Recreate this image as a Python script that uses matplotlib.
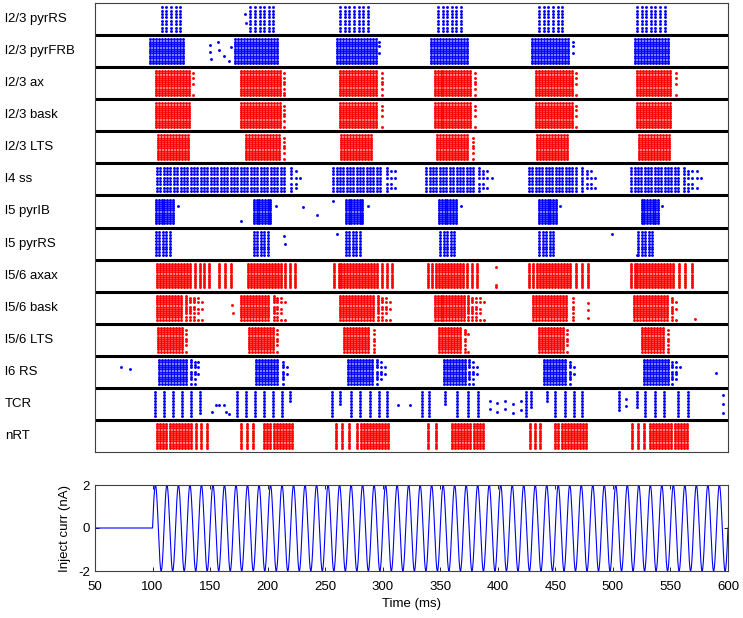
import numpy as np
import matplotlib
matplotlib.use("Agg")
from matplotlib import pyplot as plt

plt.rcParams['font.family'] = ['Liberation Sans', 'DejaVu Sans']
plt.rcParams['axes.unicode_minus'] = False

# populations, top to bottom
pop_names = ["l2/3 pyrRS", "l2/3 pyrFRB", "l2/3 ax", "l2/3 bask", "l2/3 LTS",
             "l4 ss", "l5 pyrIB", "l5 pyrRS", "l5/6 axax", "l5/6 bask",
             "l5/6 LTS", "l6 RS", "TCR", "nRT"]
pop_colors = ["b", "b", "r", "r", "r", "b", "b", "b", "r", "r", "r", "b", "b", "r"]
n_cells = [8, 11, 12, 12, 12, 8, 12, 9, 12, 12, 12, 11, 9, 12]

# burst segments per population: (start ms, end ms, spike interval ms, ragged tail ms)
segments = [
    [(108, 126, 4.0, 4), (185, 206, 4.0, 4), (263, 288, 4.0, 4), (348, 371, 4.0, 4), (436, 458, 4.0, 4), (521, 547, 4.0, 4)],
    [(98, 129, 2.6, 3), (172, 209, 2.6, 3), (260, 294, 2.6, 4), (342, 374, 2.6, 3), (430, 462, 2.6, 4), (519, 550, 2.6, 3)],
    [(103, 132, 2.6, 4), (177, 211, 2.6, 6), (263, 296, 2.6, 5), (345, 377, 2.6, 5), (433, 465, 2.6, 4), (521, 552, 2.6, 4)],
    [(103, 133, 2.6, 3), (177, 211, 2.6, 5), (263, 296, 2.6, 4), (345, 377, 2.6, 4), (433, 465, 2.6, 4), (521, 550, 2.6, 2)],
    [(105, 133, 2.6, 2), (181, 211, 2.6, 5), (264, 292, 2.6, 3), (347, 375, 2.6, 5), (434, 461, 2.6, 2), (523, 551, 2.6, 2)],
    [(104, 217, 2.9, 12), (257, 300, 2.9, 14), (338, 380, 2.9, 16), (427, 470, 2.9, 18), (516, 558, 2.9, 20)],
    [(103, 119, 2.4, 3), (188, 204, 2.4, 3), (268, 284, 2.4, 3), (349, 365, 2.4, 3), (436, 451, 2.4, 3), (525, 540, 2.4, 3)],
    [(103, 116, 3.0, 3), (188, 201, 3.0, 3), (268, 280, 3.0, 3), (350, 362, 3.0, 3), (436, 449, 3.0, 3), (522, 536, 3.0, 3)],
    [(104, 134, 2.6, 2), (137, 149, 4.0, 0), (158, 168, 5.0, 0), (183, 212, 2.6, 2), (215, 228, 4.5, 0),
     (258, 262, 4.0, 0), (264, 296, 2.6, 3), (299, 308, 4.5, 0), (339, 343, 4.0, 0), (346, 370, 2.6, 3),
     (373, 383, 4.5, 0), (427, 431, 4.0, 0), (434, 465, 2.6, 3), (468, 478, 5.0, 0), (516, 519, 3.0, 0),
     (521, 553, 2.6, 3), (557, 569, 6.0, 0)],
    [(104, 126, 2.6, 20), (177, 202, 2.6, 14), (263, 293, 2.6, 16), (345, 371, 2.6, 18), (431, 462, 2.6, 6), (518, 548, 2.6, 8)],
    [(105, 126, 2.6, 5), (184, 205, 2.6, 5), (266, 289, 2.6, 6), (349, 368, 2.6, 7), (436, 457, 2.6, 5), (525, 545, 2.6, 6)],
    [(106, 130, 2.6, 13), (190, 210, 2.6, 8), (270, 292, 2.6, 11), (353, 372, 2.6, 12), (440, 460, 2.6, 8), (527, 548, 2.6, 10)],
    [],
    [(104, 134, 2.7, 0), (138, 147, 4.5, 0), (177, 187, 5.0, 0), (197, 222, 2.7, 3), (259, 273, 6.0, 0),
     (278, 305, 2.7, 3), (339, 347, 7.0, 0), (360, 388, 2.7, 0), (428, 438, 4.5, 0), (450, 478, 2.7, 3),
     (517, 528, 5.0, 0), (532, 566, 2.7, 3)],
]

# TCR fires in synchronous volleys: (time ms, fraction of cells from top that fire)
tcr_volleys = [(102.5, 1.0), (110.3, 1.0), (117.7, 1.0), (125.5, 1.0), (133.3, 1.0), (140.8, 0.9),
               (173.4, 1.0), (181.6, 1.0), (189.4, 1.0), (196.5, 1.0), (204.6, 1.0), (212.4, 1.0), (219.5, 0.5),
               (255.7, 1.0), (262.8, 0.6), (272.7, 1.0), (280.5, 1.0), (288.7, 1.0), (296.8, 1.0), (303.9, 1.0),
               (333.7, 1.0), (340.1, 1.0), (354.3, 0.6), (364.9, 1.0), (373.8, 1.0), (382.6, 1.0),
               (424.5, 1.0), (428.8, 0.7), (442.9, 0.5), (450.0, 1.0), (458.2, 1.0), (466.0, 1.0), (473.0, 1.0),
               (505.0, 0.8), (521.0, 0.7), (528.0, 1.0), (536.9, 1.0), (544.0, 1.0), (556.4, 1.0), (565.2, 1.0)]

# isolated spikes: (population index, time ms, height within row 0..1)
stray_spikes = [
    (1, 150, 0.75), (1, 150, 0.45), (1, 151, 0.2), (1, 157, 0.85), (1, 158, 0.55), (1, 162, 0.3),
    (1, 166, 0.1), (1, 168, 0.65), (0, 180, 0.7), (0, 181, 0.35),
    (6, 177, 0.14), (6, 231, 0.67), (6, 243, 0.37), (6, 257, 0.89),
    (7, 214, 0.78), (7, 215, 0.47), (7, 260, 0.89), (7, 499, 0.89), (7, 521, 0.05),
    (8, 398, 0.85), (8, 398, 0.15), (8, 398, 0.05),
    (9, 169, 0.6), (9, 170, 0.3), (9, 478, 0.7), (9, 478, 0.4), (9, 478, 0.1), (9, 571, 0.05),
    (11, 73, 0.67), (11, 80, 0.6), (11, 590, 0.45),
    (12, 152, 0.2), (12, 155, 0.45), (12, 158, 0.45), (12, 162, 0.45), (12, 164, 0.2), (12, 166, 0.1),
    (12, 313.5, 0.45), (12, 324.1, 0.45), (12, 393, 0.6), (12, 393, 0.3), (12, 399, 0.55), (12, 399, 0.2),
    (12, 406, 0.6), (12, 406, 0.3), (12, 413, 0.5), (12, 413, 0.15), (12, 420, 0.6), (12, 420, 0.25),
    (12, 511, 0.7), (12, 511, 0.4), (12, 596, 0.85), (12, 596, 0.5), (12, 596, 0.15),
]

# how far along the ragged tail each cell keeps firing
row_lag = [0.3, 0.8, 0.5, 1.0, 0.2, 0.65, 0.9, 0.4, 0.75, 0.1, 0.55, 0.95, 0.35, 0.7]

stim_onset = 100.0   # ms
stim_freq = 100.0    # Hz
stim_amp = 2.0       # nA

fig = plt.figure(figsize=(7.43, 6.18), dpi=100)
ax = fig.add_axes([95 / 743, 1 - 452 / 618, 633 / 743, 449 / 618])
n_pop = len(pop_names)


def row_y(i, n, r):
    base = n_pop - 1 - i
    return base + 0.87 - 0.74 * r / max(n - 1, 1)


for i, name in enumerate(pop_names):
    n = n_cells[i]
    ts, ys = [], []
    for (t0, t1, dt, tail) in segments[i]:
        for r in range(n):
            core = np.arange(t0, t1 + 1e-6, dt)
            ts.extend(core)
            ys.extend([row_y(i, n, r)] * len(core))
            if tail > 0:
                extra = np.arange(t1 + dt * 1.2, t1 + tail * row_lag[r % len(row_lag)] + 1e-6, dt * 1.3)
                ts.extend(extra)
                ys.extend([row_y(i, n, r)] * len(extra))
    if name == "TCR":
        for (t, frac) in tcr_volleys:
            for r in range(int(round(n * frac))):
                ts.append(t)
                ys.append(row_y(i, n, r))
    for (p, t, h) in stray_spikes:
        if p == i:
            ts.append(t)
            ys.append(n_pop - 1 - i + 0.1 + 0.8 * h)
    ax.plot(ts, ys, 'o', ms=2.1, mew=0, color=pop_colors[i], linestyle='none')
    ax.text(-0.142, n_pop - 0.5 - i, name, transform=ax.get_yaxis_transform(),
            ha='left', va='center', fontsize=9.5)

for k in range(1, n_pop):
    ax.axhline(k, color='k', lw=2.2)
ax.set_xlim(50, 600)
ax.set_ylim(0, n_pop)
ax.set_xticks([])
ax.set_yticks([])
for s in ax.spines.values():
    s.set_color('#404040')
    s.set_linewidth(0.8)

# injected current
ax2 = fig.add_axes([95 / 743, 1 - 571 / 618, 633 / 743, 86 / 618])
t = np.linspace(50, 600, 11001)
curr = np.where(t >= stim_onset, stim_amp * np.sin(2 * np.pi * stim_freq * (t - stim_onset) / 1000.0), 0.0)
ax2.plot(t, curr, color='#0000ff', lw=0.8)
ax2.set_xlim(50, 600)
ax2.set_ylim(-2, 2)
ax2.set_xticks(np.arange(50, 601, 50))
ax2.set_yticks([-2, 0, 2])
ax2.tick_params(direction='in', top=True, right=True, length=3, width=0.6, labelsize=9.5)
ax2.tick_params(axis='x', pad=7)
for s in ax2.spines.values():
    s.set_color('#404040')
    s.set_linewidth(0.8)
ax2.set_xlabel("Time (ms)", fontsize=9.5, labelpad=4)
ax2.set_ylabel("Inject curr (nA)", fontsize=9.5, labelpad=5)

fig.savefig("out.png", dpi=100)
